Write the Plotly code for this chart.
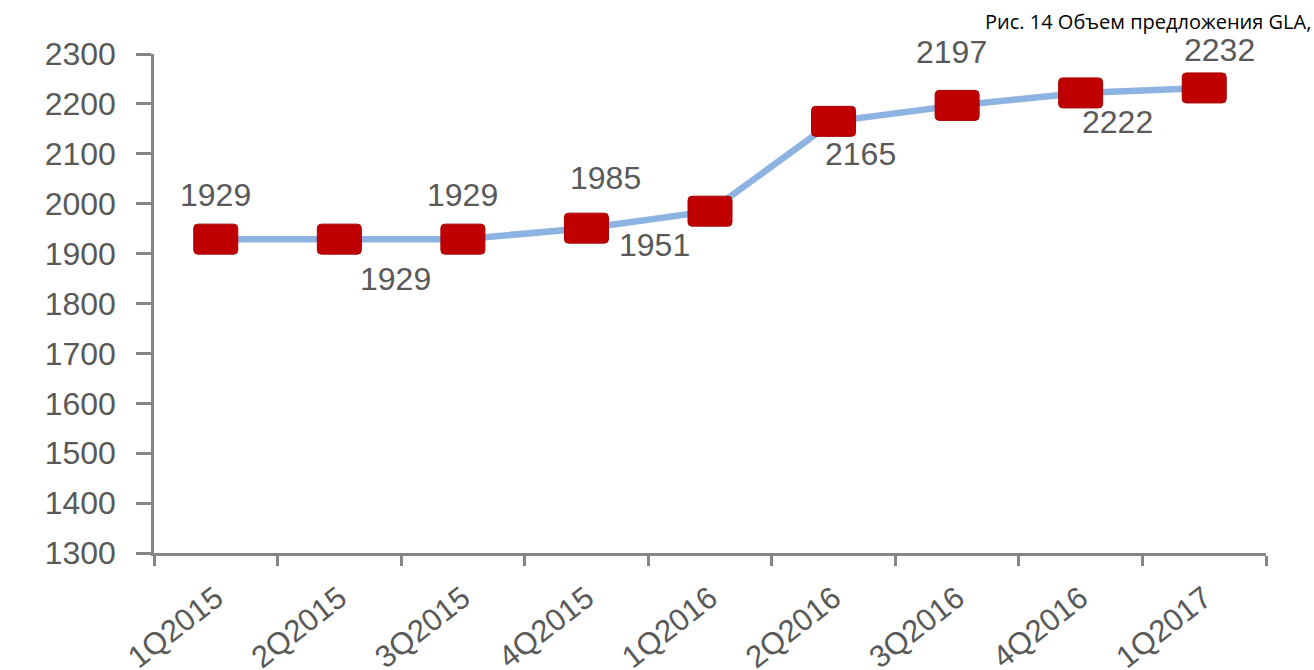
import plotly.graph_objects as go

# Quarterly GLA supply volume
quarters = ["1Q2015", "2Q2015", "3Q2015", "4Q2015", "1Q2016",
            "2Q2016", "3Q2016", "4Q2016", "1Q2017"]
supply = [1929, 1929, 1929, 1951, 1985, 2165, 2197, 2222, 2232]
y_ticks = [1300, 1400, 1500, 1600, 1700, 1800, 1900, 2000, 2100, 2200, 2300]

# pixel offsets of each value label relative to its point
label_dx = [0, 56, 0, 68, -105, 27, -6, 37, 15]
label_dy = [44, -40, 44, -17, 33, -33, 53, -29, 38]

LINE_BLUE = "#8DB3E2"
MARK_RED = "#C00000"
AXIS_GREY = "#868686"
TEXT_GREY = "#595959"
FONT = "Liberation Sans, Arial, sans-serif"

fig = go.Figure()
fig.add_trace(go.Scatter(
    x=quarters, y=supply, mode="lines",
    line=dict(color=LINE_BLUE, width=6.5),
    hoverinfo="x+y", showlegend=False,
))

# rounded rectangular markers anchored at each data point
hw, hh, r = 22, 15, 4
marker_path = (
    f"M {-hw + r},{-hh} L {hw - r},{-hh} Q {hw},{-hh} {hw},{-hh + r} "
    f"L {hw},{hh - r} Q {hw},{hh} {hw - r},{hh} L {-hw + r},{hh} "
    f"Q {-hw},{hh} {-hw},{hh - r} L {-hw},{-hh + r} Q {-hw},{-hh} {-hw + r},{-hh} Z"
)
for q, v in zip(quarters, supply):
    fig.add_shape(
        type="path", xref="x", yref="y",
        xsizemode="pixel", ysizemode="pixel",
        xanchor=q, yanchor=v, path=marker_path,
        fillcolor=MARK_RED, line=dict(color="#A80000", width=1),
        layer="above",
    )

for q, v, dx, dy in zip(quarters, supply, label_dx, label_dy):
    fig.add_annotation(
        x=q, y=v, text=str(v), showarrow=False,
        xshift=dx, yshift=dy,
        font=dict(family=FONT, size=32, color=TEXT_GREY),
    )

fig.add_annotation(
    xref="paper", yref="paper", x=1.0425, y=1.0,
    xanchor="right", yanchor="bottom", yshift=17,
    text="Рис. 14 Объем предложения GLA,", showarrow=False,
    font=dict(family="Open Sans, sans-serif", size=20, color="#000000"),
)

fig.update_layout(
    width=1314, height=670,
    margin=dict(l=154, r=48, t=54, b=117),
    paper_bgcolor="white", plot_bgcolor="white",
    xaxis=dict(
        type="category", range=[-0.5, len(quarters) - 0.5],
        automargin=False,
        showline=True, linecolor=AXIS_GREY, linewidth=2.5,
        ticks="outside", tickson="boundaries", ticklen=10,
        tickwidth=2.5, tickcolor=AXIS_GREY,
        tickangle=-38, ticklabelstandoff=12,
        tickfont=dict(family=FONT, size=31, color=TEXT_GREY),
        showgrid=False, zeroline=False,
    ),
    yaxis=dict(
        range=[1300, 2300], tickvals=y_ticks, automargin=False,
        showline=True, linecolor=AXIS_GREY, linewidth=2.5,
        ticks="outside", ticklen=15, tickwidth=2.5, tickcolor=AXIS_GREY,
        ticklabelstandoff=14,
        tickfont=dict(family=FONT, size=32, color=TEXT_GREY),
        showgrid=False, zeroline=False,
    ),
)

fig.write_html("out.html")
